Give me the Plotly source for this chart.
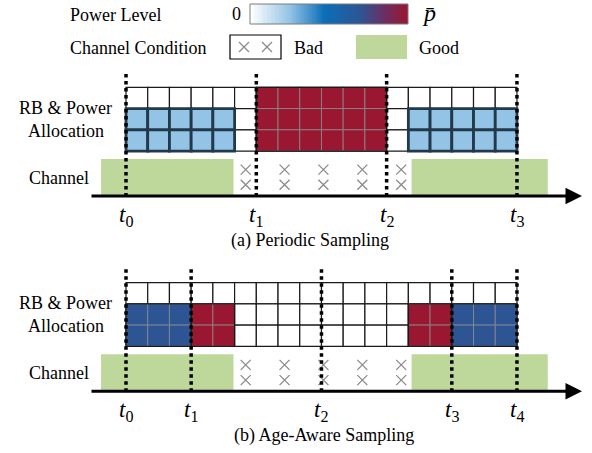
import plotly.graph_objects as go
from plotly.colors import sample_colorscale

# ---------------- data ----------------
N_SLOTS = 18          # resource-block time slots per panel
N_RB = 3              # resource blocks per slot

panel_names = ["(a) Periodic Sampling", "(b) Age-Aware Sampling"]

# power level (fraction of p_bar) and number of allocated RBs per slot
periodic_power = [0.25, 0.25, 0.25, 0.25, 0.25, 0, 1, 1, 1, 1, 1, 1, 0, 0.25, 0.25, 0.25, 0.25, 0.25]
periodic_rbs = [2, 2, 2, 2, 2, 0, 3, 3, 3, 3, 3, 3, 0, 2, 2, 2, 2, 2]
periodic_samples = [0, 6, 12, 18]          # sampling instants (slot boundaries)

aware_power = [0.7, 0.7, 0.7, 1, 1, 0, 0, 0, 0, 0, 0, 0, 0, 1, 1, 0.7, 0.7, 0.7]
aware_rbs = [2, 2, 2, 2, 2, 0, 0, 0, 0, 0, 0, 0, 0, 2, 2, 2, 2, 2]
aware_samples = [0, 3, 9, 15, 18]

# channel condition segments (in slot units)
channel_edges = [-1.15, 4.95, 13.15, 19.42]
channel_states = ["Good", "Bad", "Good"]
bad_cross_count = 5

# power-level legend ramp (0 .. p_bar)
RAMP_STEPS = 120
power_ramp = [i / (RAMP_STEPS - 1) for i in range(RAMP_STEPS)]

panels = [
    dict(power=periodic_power, rbs=periodic_rbs, samples=periodic_samples, name=panel_names[0]),
    dict(power=aware_power, rbs=aware_rbs, samples=aware_samples, name=panel_names[1]),
]

# ---------------- style ----------------
W, H = 592, 453
X0_PX, SLOT_PX = 126.0, 21.72
FONT = "Liberation Serif, Times New Roman, serif"
GREEN = "#bed89b"
POWER_SCALE = [[0.0, "#ffffff"], [0.25, "#93c4e5"], [0.47, "#0b6eb9"],
               [0.7, "#2e5593"], [0.85, "#6a2f63"], [1.0, "#9a1731"]]

PANEL_OFFSET = [0.0, 195.3]
GRID_TOP, ROW_H = 87.3, 21.25
CH_TOP, AXIS_Y, DOT_TOP = 159.0, 196.0, 74.0
TLAB_Y = 216.0
CAPTION_POS = [(310, 240), (324, 435)]
CROSS_FIRST, CROSS_STEP = 0.56, 1.79


def sx(px):
    return (px - X0_PX) / SLOT_PX


def paper(px, py):
    return px / W, 1 - py / H


fig = go.Figure()
shapes = []
annotations = []


def text(px, py, s, size=18, anchor="center"):
    x, y = paper(px, py)
    annotations.append(dict(x=x, y=y, xref="paper", yref="paper", text=s, showarrow=False,
                            xanchor=anchor, yanchor="middle", borderpad=0,
                            font=dict(family=FONT, size=size, color="black")))


for k, p in enumerate(panels):
    off = PANEL_OFFSET[k]
    gtop = GRID_TOP + off
    # empty grid
    for s in range(N_SLOTS):
        for r in range(N_RB):
            shapes.append(dict(type="rect", xref="x", yref="y", x0=s, x1=s + 1,
                               y0=gtop + r * ROW_H, y1=gtop + (r + 1) * ROW_H,
                               fillcolor="white", line=dict(color="#1a1a1a", width=1.2), layer="above"))
    # allocated cells
    cols = sample_colorscale(POWER_SCALE, list(p["power"]))
    for s in range(N_SLOTS):
        n = p["rbs"][s]
        if n == 0:
            continue
        for r in range(N_RB - n, N_RB):
            light = p["power"][s] < 0.5
            shapes.append(dict(type="rect", xref="x", yref="y", x0=s, x1=s + 1,
                               y0=gtop + r * ROW_H, y1=gtop + (r + 1) * ROW_H,
                               fillcolor=cols[s],
                               line=dict(color="#22384b" if light else "#8e8e8e",
                                         width=2.8 if light else 0.8), layer="above"))
    # block outlines for high-power runs
    s = 0
    while s < N_SLOTS:
        if p["rbs"][s] and p["power"][s] >= 0.5:
            e = s
            while e + 1 < N_SLOTS and p["power"][e + 1] == p["power"][s] and p["rbs"][e + 1] == p["rbs"][s]:
                e += 1
            n = p["rbs"][s]
            shapes.append(dict(type="rect", xref="x", yref="y", x0=s, x1=e + 1,
                               y0=gtop + (N_RB - n) * ROW_H, y1=gtop + N_RB * ROW_H,
                               line=dict(color="#1a1a1a", width=1.3), layer="above"))
            s = e + 1
        else:
            s += 1
    # channel
    ctop, ay = CH_TOP + off, AXIS_Y + off
    cx, cy = [], []
    for i, st in enumerate(channel_states):
        a, b = channel_edges[i], channel_edges[i + 1]
        if st == "Good":
            shapes.append(dict(type="rect", xref="x", yref="y", x0=a, x1=b, y0=ctop, y1=ay,
                               fillcolor=GREEN, line=dict(width=0), layer="below"))
        else:
            for j in range(bad_cross_count):
                for dy in (10.6, 25.8):
                    cx.append(a + CROSS_FIRST + j * CROSS_STEP)
                    cy.append(ctop + dy)
    fig.add_trace(go.Scatter(x=cx, y=cy, mode="markers", hoverinfo="skip", showlegend=False,
                             marker=dict(symbol="x-thin", size=10, color="#8a8a8a",
                                         line=dict(color="#8a8a8a", width=1.3))))
    # sampling instants
    for i, t in enumerate(p["samples"]):
        shapes.append(dict(type="line", xref="x", yref="y", x0=t, x1=t, y0=DOT_TOP + off, y1=ay,
                           line=dict(color="black", width=3.5, dash="dot"), layer="above"))
        annotations.append(dict(x=t, y=TLAB_Y + off, xref="x", yref="y",
                                text=f"<i>t</i><sub>{i}</sub>", showarrow=False,
                                font=dict(family=FONT, size=23, color="black")))
    # time axis
    annotations.append(dict(x=sx(582), y=ay, ax=sx(90), ay=ay, xref="x", yref="y",
                            axref="x", ayref="y", text="", showarrow=True, arrowhead=2,
                            arrowsize=1.1, arrowwidth=3, arrowcolor="black", standoff=0))
    # row labels and caption
    text(65, 108 + off, "RB & Power")
    text(65.5, 131 + off, "Allocation")
    text(59, 178 + off, "Channel")
    text(CAPTION_POS[k][0], CAPTION_POS[k][1], p["name"])

# ---------------- legend ----------------
text(69, 15, "Power Level", anchor="left")
text(236, 14, "0")
text(429, 13, "<i>p̄</i>", size=24)
text(69, 48, "Channel Condition", anchor="left")
text(293, 48, "Bad", anchor="left")
text(418, 48, "Good", anchor="left")
bx0, by0 = paper(230, 59)
bx1, by1 = paper(281, 35)
shapes.append(dict(type="rect", xref="paper", yref="paper", x0=bx0, x1=bx1, y0=by0, y1=by1,
                   line=dict(color="black", width=1.2)))
gx0, gy0 = paper(356, 59)
gx1, gy1 = paper(407, 35)
shapes.append(dict(type="rect", xref="paper", yref="paper", x0=gx0, x1=gx1, y0=gy0, y1=gy1,
                   fillcolor=GREEN, line=dict(width=0)))
fig.add_trace(go.Scatter(x=[sx(244), sx(267)], y=[47, 47], mode="markers", hoverinfo="skip",
                         showlegend=False,
                         marker=dict(symbol="x-thin", size=10, color="#8a8a8a",
                                     line=dict(color="#8a8a8a", width=1.3))))
# colour ramp for power level
rx0, rx1 = sx(250), sx(408)
rdx = (rx1 - rx0) / RAMP_STEPS
fig.add_trace(go.Heatmap(z=[power_ramp], x0=rx0 + rdx / 2, dx=rdx, y0=14, dy=20,
                         colorscale=POWER_SCALE, zmin=0, zmax=1, showscale=False,
                         hoverinfo="skip"))
shapes.append(dict(type="rect", xref="x", yref="y", x0=rx0, x1=rx1, y0=4, y1=24,
                   line=dict(color="#7a7a7a", width=1), layer="above"))

fig.update_layout(
    width=W, height=H, autosize=False, margin=dict(l=0, r=0, t=0, b=0),
    paper_bgcolor="white", plot_bgcolor="white",
    xaxis=dict(range=[sx(0), sx(W)], visible=False, fixedrange=True),
    yaxis=dict(range=[H, 0], visible=False, fixedrange=True),
    shapes=shapes, annotations=annotations, showlegend=False,
)
fig.write_html("out.html", config={"displayModeBar": False},
               post_script="document.body.style.margin='0';document.body.style.padding='0';")
